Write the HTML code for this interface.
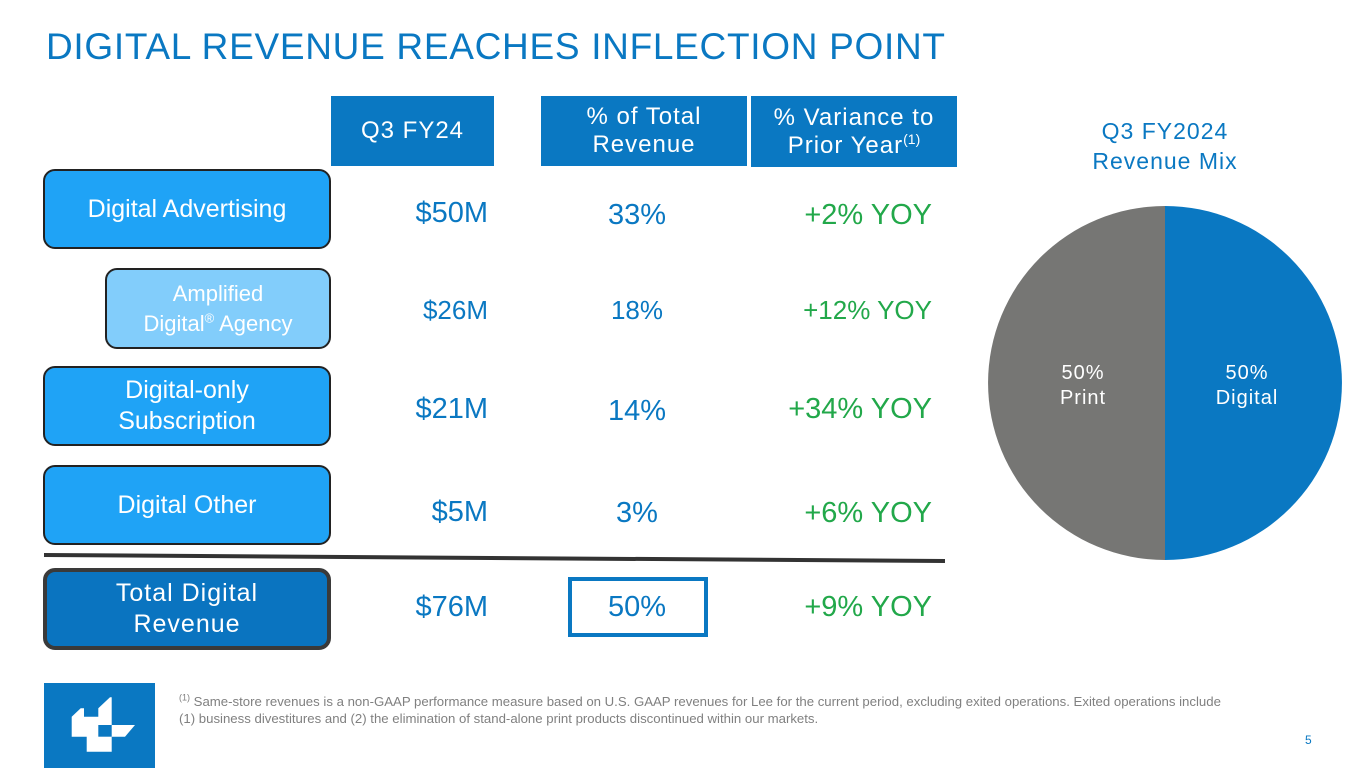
<!DOCTYPE html>
<html><head><meta charset="utf-8"><style>
body{margin:0;width:1365px;height:768px;background:#fff;position:relative;overflow:hidden;font-family:"Liberation Sans",sans-serif}
div{position:absolute;box-sizing:border-box}
.hdr{background:#0a78c2;color:#fff;font-size:24px;text-align:center;display:flex;align-items:center;justify-content:center;line-height:28px;letter-spacing:1px}
.lab{border:2px solid #222;border-radius:12px;color:#fff;font-size:25px;text-align:center;display:flex;align-items:center;justify-content:center;line-height:31px}
.v{font-size:29px;color:#0a78c2;text-align:right;width:150px}
.p{font-size:29px;color:#0a78c2;text-align:center;width:150px}
.g{font-size:29px;color:#22a84a;text-align:right;width:250px}
sup{line-height:0}
</style></head><body>
<div style="left:46px;top:26px;font-size:37px;color:#0a78c2;letter-spacing:0.7px">DIGITAL REVENUE REACHES INFLECTION POINT</div>

<div class="hdr" style="left:331px;top:96px;width:163px;height:70px"><span>Q3 FY24</span></div>
<div class="hdr" style="left:541px;top:96px;width:206px;height:70px"><span>% of Total<br>Revenue</span></div>
<div class="hdr" style="left:751px;top:96px;width:206px;height:71px"><span>% Variance to<br>Prior Year<sup style="font-size:14px;letter-spacing:0">(1)</sup></span></div>

<div class="lab" style="left:43px;top:169px;width:288px;height:80px;background:#1fa3f6"><span>Digital Advertising</span></div>
<div class="lab" style="left:105px;top:268px;width:226px;height:81px;background:#82cdfb;font-size:22px;line-height:30px"><span>Amplified<br>Digital<sup style="font-size:13px">®</sup> Agency</span></div>
<div class="lab" style="left:43px;top:366px;width:288px;height:80px;background:#1fa3f6"><span>Digital-only<br>Subscription</span></div>
<div class="lab" style="left:43px;top:465px;width:288px;height:80px;background:#1fa3f6"><span>Digital Other</span></div>
<div class="lab" style="left:43px;top:568px;width:288px;height:82px;background:#0a74c0;border:4px solid #3a3a3a;letter-spacing:1px"><span>Total Digital<br>Revenue</span></div>

<div class="v" style="left:338px;top:197px">$50M</div>
<div class="v" style="left:338px;top:295px;font-size:26px">$26M</div>
<div class="v" style="left:338px;top:393px">$21M</div>
<div class="v" style="left:338px;top:496px">$5M</div>
<div class="v" style="left:338px;top:591px">$76M</div>

<div class="p" style="left:562px;top:199px">33%</div>
<div class="p" style="left:562px;top:295px;font-size:26px">18%</div>
<div class="p" style="left:562px;top:395px">14%</div>
<div class="p" style="left:562px;top:497px">3%</div>
<div style="left:568px;top:577px;width:140px;height:60px;border:4px solid #0a78c2"></div>
<div class="p" style="left:562px;top:591px">50%</div>

<div class="g" style="left:682px;top:199px">+2% YOY</div>
<div class="g" style="left:682px;top:295px;font-size:26px">+12% YOY</div>
<div class="g" style="left:682px;top:393px">+34% YOY</div>
<div class="g" style="left:682px;top:497px">+6% YOY</div>
<div class="g" style="left:682px;top:591px">+9% YOY</div>

<svg style="position:absolute;left:0;top:0" width="1365" height="768">
<line x1="44" y1="555" x2="945" y2="561" stroke="#333" stroke-width="4"/>
</svg>

<div style="left:1040px;top:116px;width:250px;text-align:center;font-size:23px;color:#0a78c2;line-height:30px;letter-spacing:1px">Q3 FY2024<br>Revenue Mix</div>
<svg id="pie" style="position:absolute;left:0;top:0" width="1365" height="768"></svg>

<div style="left:44px;top:683px;width:111px;height:85px;background:#0a78c2">
<svg width="111" height="85"><path d="M27.7,33.7 L36.7,25.3 L40,25.3 L40,33.7 L54.3,33.7 L54.3,25.3 L66,14.3 L67.7,14.3 L67.7,42 L91,42 L81,53.7 L67.7,53.7 L67.7,68.7 L42.7,68.7 L42.7,53.7 L27.7,53.7 Z" fill="#fff"/><rect x="54.3" y="42" width="13.4" height="11.7" fill="#0a78c2"/></svg>
</div>
<div style="left:179px;top:693px;font-size:13.2px;color:#808080;line-height:17px;width:1100px"><sup style="font-size:9px">(1)</sup> Same-store revenues is a non-GAAP performance measure based on U.S. GAAP revenues for Lee for the current period, excluding exited operations. Exited operations include<br>(1) business divestitures and (2) the elimination of stand-alone print products discontinued within our markets.</div>
<div style="left:1305px;top:733px;font-size:12px;color:#0a78c2">5</div>

<script>
const mixLabels = ["Digital","Print"];
const mixValues = [50,50];
const mixColors = ["#0a78c2","#767674"];
const ns="http://www.w3.org/2000/svg";
const svg=document.getElementById('pie');
const cx=1165,cy=383,r=177;
const total=mixValues.reduce((a,b)=>a+b,0);
let ang=-Math.PI/2;
mixValues.forEach((v,i)=>{
  const a2=ang+v/total*2*Math.PI;
  const large=(a2-ang)>Math.PI?1:0;
  const p=document.createElementNS(ns,'path');
  p.setAttribute('d',`M${cx},${cy} L${cx+r*Math.cos(ang)},${cy+r*Math.sin(ang)} A${r},${r} 0 ${large} 1 ${cx+r*Math.cos(a2)},${cy+r*Math.sin(a2)} Z`);
  p.setAttribute('fill',mixColors[i]);
  
  
  svg.appendChild(p);
  const mid=(ang+a2)/2, lr=82;
  [v+"%",mixLabels[i]].forEach((t,k)=>{
    const tx=document.createElementNS(ns,'text');
    tx.setAttribute('x',cx+lr*Math.cos(mid));
    tx.setAttribute('y',cy+lr*Math.sin(mid)-4+k*25);
    tx.setAttribute('text-anchor','middle');
    tx.setAttribute('fill','#fff');
    tx.setAttribute('font-size','20');
    tx.setAttribute('font-family','Liberation Sans, sans-serif');
    tx.setAttribute('letter-spacing','1');
    tx.textContent=t;
    
    
    svg.appendChild(tx);
  });
  ang=a2;
});
</script>
</body></html>
